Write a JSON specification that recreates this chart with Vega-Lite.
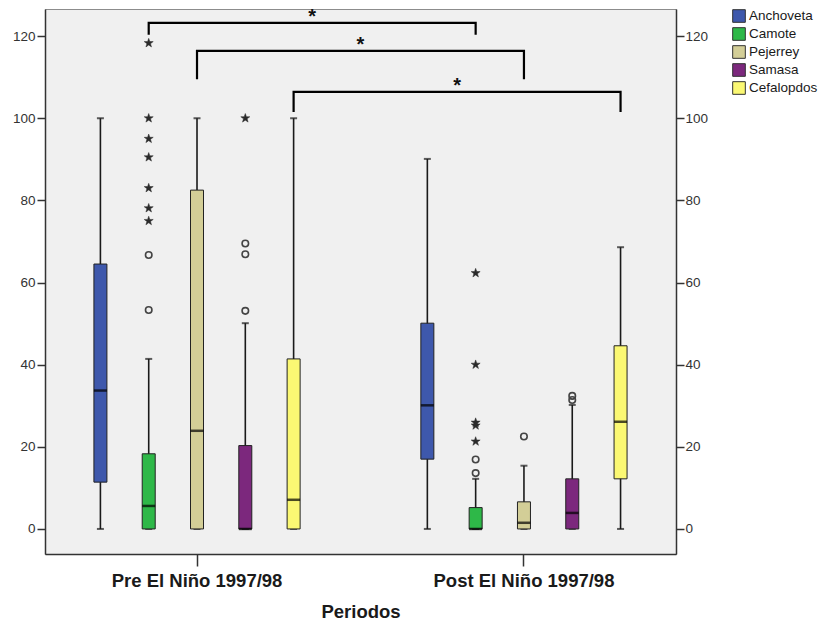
{
  "$schema": "https://vega.github.io/schema/vega-lite/v6.json",
  "width": 631,
  "height": 545,
  "autosize": {"type": "none"},
  "padding": {"left": 45, "top": 9, "right": 143, "bottom": 69},
  "background": "white",
  "config": {
    "font": "Liberation Sans",
    "view": {"fill": "#f0f0f0", "stroke": "#8c8c8c", "strokeWidth": 1}
  },
  "datasets": {
    "cajas": [
      {"Periodo": "Pre El Niño 1997/98", "Especie": "Anchoveta", "lo": 0, "q1": 11.4, "med": 33.7, "q3": 64.5, "hi": 100},
      {"Periodo": "Pre El Niño 1997/98", "Especie": "Camote", "lo": 0, "q1": 0, "med": 5.6, "q3": 18.3, "hi": 41.4},
      {"Periodo": "Pre El Niño 1997/98", "Especie": "Pejerrey", "lo": 0, "q1": 0, "med": 23.9, "q3": 82.5, "hi": 100},
      {"Periodo": "Pre El Niño 1997/98", "Especie": "Samasa", "lo": 0, "q1": 0, "med": 0, "q3": 20.3, "hi": 50.1},
      {"Periodo": "Pre El Niño 1997/98", "Especie": "Cefalopdos", "lo": 0, "q1": 0, "med": 7.1, "q3": 41.4, "hi": 100},
      {"Periodo": "Post El Niño 1997/98", "Especie": "Anchoveta", "lo": 0, "q1": 17, "med": 30.1, "q3": 50.1, "hi": 90.1},
      {"Periodo": "Post El Niño 1997/98", "Especie": "Camote", "lo": 0, "q1": 0, "med": 0, "q3": 5.2, "hi": 12.2},
      {"Periodo": "Post El Niño 1997/98", "Especie": "Pejerrey", "lo": 0, "q1": 0, "med": 1.5, "q3": 6.6, "hi": 15.4},
      {"Periodo": "Post El Niño 1997/98", "Especie": "Samasa", "lo": 0, "q1": 0, "med": 3.9, "q3": 12.2, "hi": 30.2},
      {"Periodo": "Post El Niño 1997/98", "Especie": "Cefalopdos", "lo": 0, "q1": 12.2, "med": 26.1, "q3": 44.6, "hi": 68.6}
    ],
    "atipicos": [
      {"Periodo": "Pre El Niño 1997/98", "Especie": "Camote", "valor": 118.3, "tipo": "extremo"},
      {"Periodo": "Pre El Niño 1997/98", "Especie": "Camote", "valor": 100, "tipo": "extremo"},
      {"Periodo": "Pre El Niño 1997/98", "Especie": "Camote", "valor": 95, "tipo": "extremo"},
      {"Periodo": "Pre El Niño 1997/98", "Especie": "Camote", "valor": 90.5, "tipo": "extremo"},
      {"Periodo": "Pre El Niño 1997/98", "Especie": "Camote", "valor": 83, "tipo": "extremo"},
      {"Periodo": "Pre El Niño 1997/98", "Especie": "Camote", "valor": 78.1, "tipo": "extremo"},
      {"Periodo": "Pre El Niño 1997/98", "Especie": "Camote", "valor": 75, "tipo": "extremo"},
      {"Periodo": "Pre El Niño 1997/98", "Especie": "Camote", "valor": 66.7, "tipo": "atipico"},
      {"Periodo": "Pre El Niño 1997/98", "Especie": "Camote", "valor": 53.3, "tipo": "atipico"},
      {"Periodo": "Pre El Niño 1997/98", "Especie": "Samasa", "valor": 100, "tipo": "extremo"},
      {"Periodo": "Pre El Niño 1997/98", "Especie": "Samasa", "valor": 69.5, "tipo": "atipico"},
      {"Periodo": "Pre El Niño 1997/98", "Especie": "Samasa", "valor": 66.9, "tipo": "atipico"},
      {"Periodo": "Pre El Niño 1997/98", "Especie": "Samasa", "valor": 53.1, "tipo": "atipico"},
      {"Periodo": "Post El Niño 1997/98", "Especie": "Camote", "valor": 62.3, "tipo": "extremo"},
      {"Periodo": "Post El Niño 1997/98", "Especie": "Camote", "valor": 40, "tipo": "extremo"},
      {"Periodo": "Post El Niño 1997/98", "Especie": "Camote", "valor": 25.9, "tipo": "extremo"},
      {"Periodo": "Post El Niño 1997/98", "Especie": "Camote", "valor": 25.2, "tipo": "extremo"},
      {"Periodo": "Post El Niño 1997/98", "Especie": "Camote", "valor": 21.3, "tipo": "extremo"},
      {"Periodo": "Post El Niño 1997/98", "Especie": "Camote", "valor": 16.9, "tipo": "atipico"},
      {"Periodo": "Post El Niño 1997/98", "Especie": "Camote", "valor": 13.6, "tipo": "atipico"},
      {"Periodo": "Post El Niño 1997/98", "Especie": "Pejerrey", "valor": 22.5, "tipo": "atipico"},
      {"Periodo": "Post El Niño 1997/98", "Especie": "Samasa", "valor": 32.4, "tipo": "atipico"},
      {"Periodo": "Post El Niño 1997/98", "Especie": "Samasa", "valor": 31.4, "tipo": "atipico"}
    ],
    "llaves": [
      {"llave": 1, "orden": 1, "Periodo": "Pre El Niño 1997/98", "Especie": "Camote", "valor": 120.3},
      {"llave": 1, "orden": 2, "Periodo": "Pre El Niño 1997/98", "Especie": "Camote", "valor": 123.2},
      {"llave": 1, "orden": 3, "Periodo": "Post El Niño 1997/98", "Especie": "Camote", "valor": 123.2},
      {"llave": 1, "orden": 4, "Periodo": "Post El Niño 1997/98", "Especie": "Camote", "valor": 120.3},
      {"llave": 2, "orden": 1, "Periodo": "Pre El Niño 1997/98", "Especie": "Pejerrey", "valor": 109.5},
      {"llave": 2, "orden": 2, "Periodo": "Pre El Niño 1997/98", "Especie": "Pejerrey", "valor": 116.4},
      {"llave": 2, "orden": 3, "Periodo": "Post El Niño 1997/98", "Especie": "Pejerrey", "valor": 116.4},
      {"llave": 2, "orden": 4, "Periodo": "Post El Niño 1997/98", "Especie": "Pejerrey", "valor": 109.5},
      {"llave": 3, "orden": 1, "Periodo": "Pre El Niño 1997/98", "Especie": "Cefalopdos", "valor": 101.5},
      {"llave": 3, "orden": 2, "Periodo": "Pre El Niño 1997/98", "Especie": "Cefalopdos", "valor": 106.4},
      {"llave": 3, "orden": 3, "Periodo": "Post El Niño 1997/98", "Especie": "Cefalopdos", "valor": 106.4},
      {"llave": 3, "orden": 4, "Periodo": "Post El Niño 1997/98", "Especie": "Cefalopdos", "valor": 101.5}
    ],
    "asteriscos": [
      {"Periodo": "entre", "Especie": "Camote", "valor": 123.2, "texto": "*"},
      {"Periodo": "entre", "Especie": "Pejerrey", "valor": 116.4, "texto": "*"},
      {"Periodo": "entre", "Especie": "Cefalopdos", "valor": 106.4, "texto": "*"}
    ]
  },
  "encoding": {
    "x": {
      "field": "Periodo",
      "type": "nominal",
      "scale": {
        "domain": ["Pre El Niño 1997/98", "entre", "Post El Niño 1997/98"],
        "paddingInner": 0.5,
        "paddingOuter": 0.68
      },
      "axis": {
        "values": ["Pre El Niño 1997/98", "Post El Niño 1997/98"],
        "title": "Periodos",
        "labelAngle": 0,
        "labelLimit": 0,
        "labelFont": "Liberation Sans",
        "labelFontSize": 18.5,
        "labelFontWeight": "bold",
        "labelColor": "#1a1a1a",
        "labelPadding": 5,
        "tickSize": 12,
        "tickColor": "#333",
        "tickWidth": 1.5,
        "domainColor": "#333",
        "domainWidth": 1.5,
        "titleFontSize": 18.5,
        "titleFontWeight": "bold",
        "titleColor": "#1a1a1a",
        "titlePadding": 13,
        "grid": false
      }
    },
    "xOffset": {
      "field": "Especie",
      "type": "nominal",
      "scale": {
        "domain": ["Anchoveta", "Camote", "Pejerrey", "Samasa", "Cefalopdos"],
        "range": [-79.9, 161.6],
        "paddingInner": 0,
        "paddingOuter": 0
      }
    }
  },
  "layer": [
    {
      "data": {"name": "cajas"},
      "mark": {"type": "rule", "color": "#1a1a1a", "strokeWidth": 1.6},
      "encoding": {
        "y": {
          "field": "lo", "type": "quantitative",
          "scale": {"domain": [-6.1, 126.6], "nice": false, "zero": false},
          "axis": {
            "orient": "left", "title": null, "grid": false,
            "values": [0, 20, 40, 60, 80, 100, 120],
            "labelFontSize": 13.5, "labelColor": "#333", "labelPadding": 2,
            "tickSize": 8, "tickColor": "#333", "tickWidth": 1.5,
            "domainColor": "#333", "domainWidth": 1.5
          }
        },
        "y2": {"field": "hi"}
      }
    },
    {
      "data": {"name": "cajas"},
      "mark": {"type": "tick", "color": "#1a1a1a", "size": 7, "thickness": 2, "orient": "horizontal"},
      "encoding": {
        "y": {"field": "hi", "type": "quantitative", "scale": {"domain": [-6.1, 126.6], "nice": false, "zero": false}, "axis": null}
      }
    },
    {
      "data": {"name": "cajas"},
      "mark": {"type": "tick", "color": "#1a1a1a", "size": 7, "thickness": 2, "orient": "horizontal"},
      "encoding": {
        "y": {"field": "lo", "type": "quantitative", "scale": {"domain": [-6.1, 126.6], "nice": false, "zero": false}, "axis": null}
      }
    },
    {
      "data": {"name": "cajas"},
      "mark": {"type": "bar", "size": 13, "stroke": "#222", "strokeWidth": 1},
      "encoding": {
        "y": {
          "field": "q1", "type": "quantitative",
          "scale": {"domain": [-6.1, 126.6], "nice": false, "zero": false},
          "axis": {
            "orient": "right", "title": null, "grid": false,
            "values": [0, 20, 40, 60, 80, 100, 120],
            "labelFontSize": 13.5, "labelColor": "#333", "labelPadding": 1,
            "tickSize": 8, "tickColor": "#333", "tickWidth": 1.5,
            "domainColor": "#333", "domainWidth": 1.5
          }
        },
        "y2": {"field": "q3"},
        "fill": {
          "field": "Especie",
          "type": "nominal",
          "scale": {
            "domain": ["Anchoveta", "Camote", "Pejerrey", "Samasa", "Cefalopdos"],
            "range": ["#3E58AC", "#2EB848", "#D3CE97", "#7C287D", "#FBF873"]
          },
          "legend": {
            "title": null,
            "orient": "right",
            "offset": 24,
            "padding": 0,
            "symbolType": "square",
            "symbolSize": 160,
            "symbolStrokeColor": "#333",
            "symbolStrokeWidth": 1,
            "labelFontSize": 13.5,
            "labelColor": "#1a1a1a",
            "labelOffset": 3,
            "rowPadding": 0
          }
        }
      }
    },
    {
      "data": {"name": "cajas"},
      "mark": {"type": "tick", "color": "#000", "size": 13, "thickness": 2.5, "orient": "horizontal"},
      "encoding": {
        "y": {"field": "med", "type": "quantitative", "scale": {"domain": [-6.1, 126.6], "nice": false, "zero": false}, "axis": null}
      }
    },
    {
      "data": {"name": "atipicos"},
      "transform": [{"filter": "datum.tipo === 'atipico'"}],
      "mark": {"type": "point", "shape": "circle", "filled": false, "stroke": "#444", "strokeWidth": 1.6, "size": 42, "opacity": 1},
      "encoding": {
        "y": {"field": "valor", "type": "quantitative", "scale": {"domain": [-6.1, 126.6], "nice": false, "zero": false}, "axis": null}
      }
    },
    {
      "data": {"name": "atipicos"},
      "transform": [{"filter": "datum.tipo === 'extremo'"}],
      "mark": {
        "type": "point",
        "shape": "M0,-1L0.235,-0.324L0.951,-0.309L0.38,0.124L0.588,0.809L0,0.4L-0.588,0.809L-0.38,0.124L-0.951,-0.309L-0.235,-0.324Z",
        "filled": true, "fill": "#2a2a2a", "stroke": "#2a2a2a", "strokeWidth": 0.5, "size": 90, "opacity": 1
      },
      "encoding": {
        "y": {"field": "valor", "type": "quantitative", "scale": {"domain": [-6.1, 126.6], "nice": false, "zero": false}, "axis": null}
      }
    },
    {
      "data": {"name": "llaves"},
      "mark": {"type": "line", "color": "#000", "strokeWidth": 2.2, "strokeJoin": "miter"},
      "encoding": {
        "y": {"field": "valor", "type": "quantitative", "scale": {"domain": [-6.1, 126.6], "nice": false, "zero": false}, "axis": null},
        "detail": {"field": "llave", "type": "nominal"},
        "order": {"field": "orden", "type": "quantitative"}
      }
    },
    {
      "data": {"name": "asteriscos"},
      "mark": {"type": "text", "fontSize": 20, "fontWeight": "bold", "color": "#111", "baseline": "alphabetic", "align": "center"},
      "encoding": {
        "y": {"field": "valor", "type": "quantitative", "scale": {"domain": [-6.1, 126.6], "nice": false, "zero": false}, "axis": null},
        "text": {"field": "texto"}
      }
    }
  ],
  "resolve": {"axis": {"y": "independent"}}
}
